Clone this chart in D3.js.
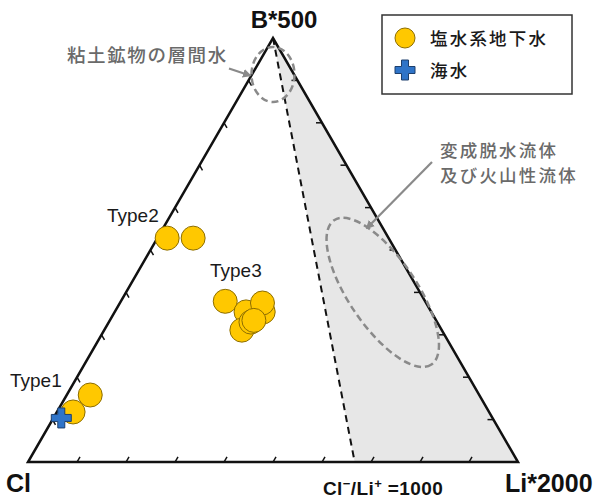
<!DOCTYPE html>
<html>
<head>
<meta charset="utf-8">
<script src="https://cdn.jsdelivr.net/npm/d3@7/dist/d3.min.js"></script>
<style>
  html, body { margin: 0; padding: 0; background: #fff; }
  svg { display: block; }
</style>
</head>
<body>
<svg id="chart" width="601" height="499"></svg>
<script>
// Ternary compositions, each given as fractions [Cl, Li*2000, B*500]
const type1Brine = [
  [0.794, 0.048, 0.158],
  [0.849, 0.033, 0.118]
];
const type2Brine = [
  [0.452, 0.020, 0.528],
  [0.399, 0.073, 0.528]
];
const type3Brine = [
  [0.408, 0.213, 0.379],
  [0.378, 0.268, 0.354],
  [0.343, 0.303, 0.354],
  [0.334, 0.291, 0.375],
  [0.408, 0.281, 0.311],
  [0.380, 0.290, 0.330],
  [0.372, 0.294, 0.334]
];
const seawater = [
  [0.881, 0.016, 0.104]
];
const groupLabels = ["Type1", "Type2", "Type3"];
const vertexLabels = ["Cl", "Li*2000", "B*500"];
const legendLabels = ["塩水系地下水", "海水"];
const tickValues = [0.1, 0.2, 0.3, 0.4, 0.5, 0.6, 0.7, 0.8, 0.9];
// Cl/Li mass ratio drawn as the dashed boundary, with the axis multipliers
const clLiRatio = 1000;
const liFactor = 2000;

const svg = d3.select("#chart");
const latin = "'Liberation Sans', Arial, sans-serif";
const cjk = "'Noto Sans CJK JP', 'Noto Sans', sans-serif";

// Projection: horizontal position from (Li + B/2), vertical from B
const xScale = d3.scaleLinear().domain([0, 1]).range([28, 518]);
const yScale = d3.scaleLinear().domain([0, 1]).range([462, 38]);
const proj = ([c, l, b]) => {
  const s = c + l + b;
  return [xScale((l + b / 2) / s), yScale(b / s)];
};

const vCl = proj([1, 0, 0]), vLi = proj([0, 1, 0]), vB = proj([0, 0, 1]);

// Fluids with Cl/Li below the ratio: region between boundary and the Li side
const liShare = liFactor / (liFactor + clLiRatio);
const boundaryFoot = proj([1 - liShare, liShare, 0]);
svg.append("path")
  .attr("d", d3.line()([vB, boundaryFoot, vLi]) + "Z")
  .attr("fill", "#e7e7e7");

svg.append("line")
  .attr("x1", vB[0]).attr("y1", vB[1])
  .attr("x2", boundaryFoot[0]).attr("y2", boundaryFoot[1])
  .attr("stroke", "#111").attr("stroke-width", 2)
  .attr("stroke-dasharray", "7,5");

// Triangle frame
svg.append("path")
  .attr("d", d3.line()([vCl, vLi, vB]) + "Z")
  .attr("fill", "none").attr("stroke", "#111")
  .attr("stroke-width", 2.5).attr("stroke-linejoin", "miter");

// Tick marks on each side, each one parallel to the neighbouring side
const tickLen = 6;
const cos60 = 0.5, sin60 = Math.sqrt(3) / 2;
const ticks = [];
tickValues.forEach(t => {
  const pb = proj([1 - t, t, 0]);           // bottom side
  ticks.push([pb, [pb[0] + tickLen * cos60, pb[1] - tickLen * sin60]]);
  const pr = proj([0, 1 - t, t]);           // right side
  ticks.push([pr, [pr[0] - tickLen, pr[1]]]);
  const pl = proj([1 - t, 0, t]);           // left side
  ticks.push([pl, [pl[0] + tickLen * cos60, pl[1] + tickLen * sin60]]);
});
svg.append("g").selectAll("line").data(ticks).join("line")
  .attr("x1", d => d[0][0]).attr("y1", d => d[0][1])
  .attr("x2", d => d[1][0]).attr("y2", d => d[1][1])
  .attr("stroke", "#111").attr("stroke-width", 1.5);

// Annotated fluid fields
const annoGray = "#8a8a8a";
const clayField = proj([0.043, 0.043, 0.914]);
const metaField = proj([0.076, 0.524, 0.400]);
svg.append("ellipse")
  .attr("cx", clayField[0]).attr("cy", clayField[1])
  .attr("rx", 21.5).attr("ry", 27.5)
  .attr("fill", "none").attr("stroke", annoGray)
  .attr("stroke-width", 2.5).attr("stroke-dasharray", "7,4");
svg.append("ellipse")
  .attr("cx", 0).attr("cy", 0)
  .attr("rx", 87).attr("ry", 34)
  .attr("transform", `translate(${metaField[0]},${metaField[1]}) rotate(56)`)
  .attr("fill", "none").attr("stroke", annoGray)
  .attr("stroke-width", 2.5).attr("stroke-dasharray", "7,4");

const defs = svg.append("defs");
defs.append("marker")
  .attr("id", "arrowHead")
  .attr("viewBox", "0 0 10 10").attr("refX", 8).attr("refY", 5)
  .attr("markerWidth", 4).attr("markerHeight", 4)
  .attr("markerUnits", "strokeWidth")
  .attr("orient", "auto")
  .append("path").attr("d", "M0,0 L10,5 L0,10 Z").attr("fill", annoGray);

const arrows = [
  [[229, 68.5], [250, 75.5]],
  [[432, 162], [367, 228]]
];
svg.append("g").selectAll("line").data(arrows).join("line")
  .attr("x1", d => d[0][0]).attr("y1", d => d[0][1])
  .attr("x2", d => d[1][0]).attr("y2", d => d[1][1])
  .attr("stroke", annoGray).attr("stroke-width", 2.2)
  .attr("marker-end", "url(#arrowHead)");

const annoText = "#6a6a6a";
svg.append("text")
  .attr("x", 67).attr("y", 62)
  .attr("font-family", cjk).attr("font-size", 18.5).attr("font-weight", 500)
  .attr("letter-spacing", 1.6)
  .attr("fill", annoText).text("粘土鉱物の層間水");
const metaLines = ["変成脱水流体", "及び火山性流体"];
svg.append("g").selectAll("text").data(metaLines).join("text")
  .attr("x", 440).attr("y", (d, i) => 157 + i * 25)
  .attr("font-family", cjk).attr("font-size", 17.5).attr("font-weight", 500)
  .attr("letter-spacing", 2.2)
  .attr("fill", annoText).text(d => d);

// Data points
const goldFill = "#ffc800", goldStroke = "#8c6d00";
const brine = type1Brine.concat(type2Brine, type3Brine);
svg.append("g").selectAll("circle").data(brine).join("circle")
  .attr("cx", d => proj(d)[0]).attr("cy", d => proj(d)[1])
  .attr("r", 12)
  .attr("fill", goldFill).attr("stroke", goldStroke).attr("stroke-width", 1);

const crossPath = (cx, cy, arm, half) =>
  `M${cx - half},${cy - arm} H${cx + half} V${cy - half} H${cx + arm} V${cy + half}` +
  ` H${cx + half} V${cy + arm} H${cx - half} V${cy + half} H${cx - arm} V${cy - half}` +
  ` H${cx - half} Z`;
const blueFill = "#2f74c8", blueStroke = "#1d3f6c";
svg.append("g").selectAll("path").data(seawater).join("path")
  .attr("d", d => { const p = proj(d); return crossPath(p[0], p[1], 10, 3.5); })
  .attr("fill", blueFill).attr("stroke", blueStroke).attr("stroke-width", 1);

// Group labels
const labelPos = [[10, 387], [107, 222], [210, 277]];
svg.append("g").selectAll("text").data(groupLabels).join("text")
  .attr("x", (d, i) => labelPos[i][0]).attr("y", (d, i) => labelPos[i][1])
  .attr("font-family", latin).attr("font-size", 19)
  .attr("fill", "#1a1a1a").text(d => d);

// Vertex labels
svg.append("text").attr("x", 6).attr("y", 492)
  .attr("font-family", latin).attr("font-weight", "bold").attr("font-size", 25)
  .attr("fill", "#111").text(vertexLabels[0]);
svg.append("text").attr("x", 505).attr("y", 492)
  .attr("font-family", latin).attr("font-weight", "bold").attr("font-size", 25)
  .attr("fill", "#111").text(vertexLabels[1]);
svg.append("text").attr("x", vB[0] + 11).attr("y", 28)
  .attr("text-anchor", "middle")
  .attr("font-family", latin).attr("font-weight", "bold").attr("font-size", 24)
  .attr("fill", "#111").text(vertexLabels[2]);

// Ratio label under the dashed boundary
const ratioLabel = svg.append("text").attr("x", 323).attr("y", 495)
  .attr("font-family", latin).attr("font-weight", "bold").attr("font-size", 19)
  .attr("letter-spacing", 0.4)
  .attr("fill", "#111");
ratioLabel.append("tspan").text("Cl");
ratioLabel.append("tspan").attr("font-size", 13).attr("dy", -7).text("−");
ratioLabel.append("tspan").attr("dy", 7).text("/Li");
ratioLabel.append("tspan").attr("font-size", 13).attr("dy", -7).text("+");
ratioLabel.append("tspan").attr("dy", 7).text(` =${clLiRatio}`);

// Legend
const legend = svg.append("g");
legend.append("rect")
  .attr("x", 382).attr("y", 15).attr("width", 190).attr("height", 79)
  .attr("fill", "#fff").attr("stroke", "#333").attr("stroke-width", 1.5);
legend.append("circle").attr("cx", 405).attr("cy", 38).attr("r", 10)
  .attr("fill", goldFill).attr("stroke", goldStroke).attr("stroke-width", 1);
legend.append("path").attr("d", crossPath(405, 70, 10, 3.5))
  .attr("fill", blueFill).attr("stroke", blueStroke).attr("stroke-width", 1);
legend.selectAll("text").data(legendLabels).join("text")
  .attr("x", 430).attr("y", (d, i) => 45 + i * 32)
  .attr("font-family", cjk).attr("font-size", 17.5).attr("font-weight", 500)
  .attr("letter-spacing", 2.2)
  .attr("fill", "#1a1a1a").text(d => d);
</script>
</body>
</html>
